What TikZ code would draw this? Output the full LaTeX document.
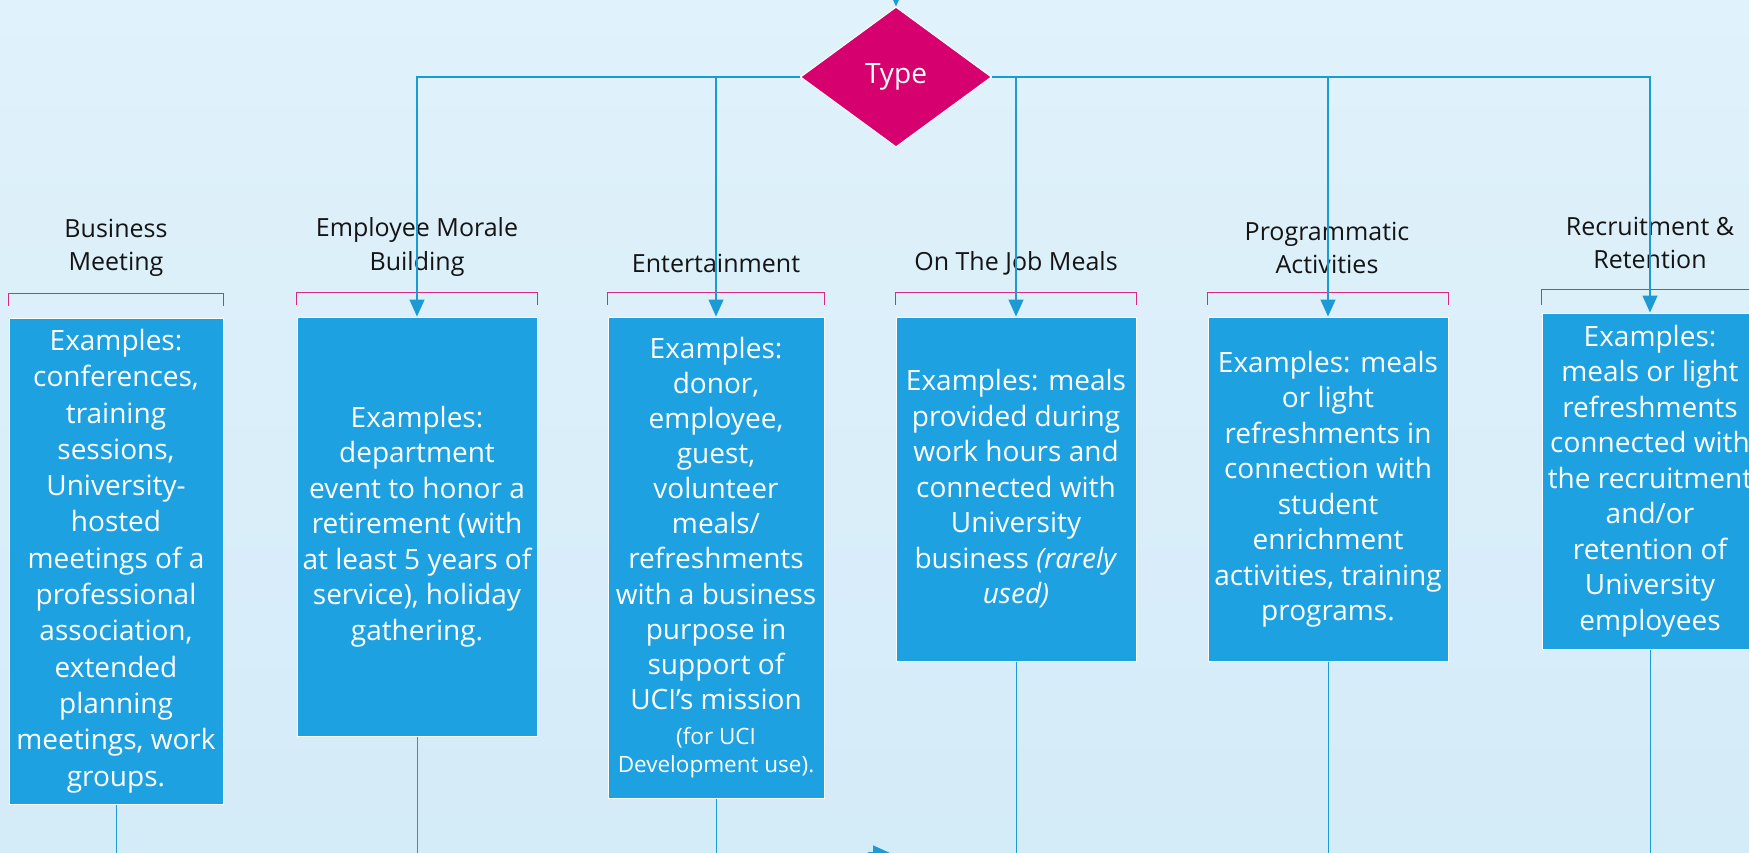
\documentclass[tikz,border=0pt]{standalone}
\usepackage{fontspec}
\setmainfont{Open Sans}
\usetikzlibrary{shapes.geometric,arrows.meta}
\definecolor{bgtop}{RGB}{224,242,251}
\definecolor{bgbot}{RGB}{212,235,248}
\definecolor{boxblue}{RGB}{29,161,224}
\definecolor{lineblue}{RGB}{28,154,214}
\definecolor{typemag}{RGB}{214,0,111}
\definecolor{brackmag}{RGB}{222,40,130}
\newcommand{\bodyfnt}{\fontsize{28}{35.5}\selectfont}
\newcommand{\smallfnt}{\fontsize{22.5}{28}\selectfont}
\tikzset{
  exbox/.style={draw=white, line width=1pt, fill=boxblue, text=white, align=center, inner sep=0pt, font=\bodyfnt},
  catlabel/.style={align=center, text=black!92, inner sep=0pt, font=\fontsize{25}{33}\selectfont},
  conn/.style={draw=lineblue, line width=1.5pt},
  thinconn/.style={draw=lineblue, line width=1pt},
  arr/.style={-{Triangle[width=15pt,length=17pt]}},
  bracket/.style={draw=brackmag, line width=1.2pt},
}
\begin{document}
\begin{tikzpicture}[x=1pt,y=-1pt]
\useasboundingbox (0,0) rectangle (1749,852);
\clip (0,0) rectangle (1749,852);
\shade[top color=bgtop, bottom color=bgbot] (0,0) rectangle (1749,852);

% diamond
\node[diamond, aspect=1.364, fill=typemag, draw=white, line width=1pt, minimum width=191pt, minimum height=140pt, inner sep=0pt, text=white, font=\fontsize{28}{34}\selectfont] (type) at (896,77) {Type};

% category labels
\node[catlabel] (l1) at (116,248) {Business\\Meeting};
\node[catlabel] (l2) at (417,247) {Employee Morale\\Building};
\node[catlabel] (l3) at (716,263) {Entertainment};
\node[catlabel] (l4) at (1016,263) {On The Job Meals};
\node[catlabel] (l5) at (1327,248) {Programmatic\\Activities};
\node[catlabel] (l6) at (1650,243) {Recruitment \&\\Retention};

% boxes
\node[exbox, font=\fontsize{28}{36.3}\selectfont, minimum width=214pt, minimum height=486pt] (b1) at (116,561) {Examples:\\conferences,\\training\\sessions,\\University-\\hosted\\meetings of a\\professional\\association,\\extended\\planning\\meetings, work\\groups.};
\node[exbox, minimum width=240pt, minimum height=419pt] (b2) at (417,526.5) {Examples:\\department\\event to honor a\\retirement (with\\at least 5 years of\\service), holiday\\gathering.};
\node[exbox, font=\fontsize{28}{35.1}\selectfont, minimum width=216pt, minimum height=481pt] (b3) at (716,557.5) {Examples:\\donor,\\employee,\\guest,\\volunteer\\meals/\\refreshments\\with a business\\purpose in\\support of\\UCI’s mission\\{\smallfnt (for UCI}\\[-7pt]{\smallfnt Development use).}};
\node[exbox, minimum width=240pt, minimum height=344pt] (b4) at (1016,489) {Examples: meals\\provided during\\work hours and\\connected with\\University\\business \textit{(rarely}\\\textit{used)}};
\node[exbox, minimum width=240pt, minimum height=344pt] (b5) at (1328,489) {Examples: meals\\or light\\refreshments in\\connection with\\student\\enrichment\\activities, training\\programs.};
\node[exbox, minimum width=216pt, minimum height=336pt] (b6) at (1650,481) {Examples:\\meals or light\\refreshments\\connected with\\the recruitment\\and/or\\retention of\\University\\employees};

% brackets
\foreach \b in {b1,b2,b3,b4,b5}{
  \draw[bracket] ([yshift=12pt]\b.north west) -- ([yshift=24pt]\b.north west) -- ([yshift=24pt]\b.north east) -- ([yshift=12pt]\b.north east);
}
\draw[bracket] ([yshift=8pt]b6.north west) -- ([yshift=23pt]b6.north west) -- ([yshift=23pt]b6.north east) -- ([yshift=8pt]b6.north east);

% connectors from Type
\draw[conn,arr] (type.west) -| (b2.north);
\draw[conn,arr] (type.west) -| (b3.north);
\draw[conn,arr] (type.east) -| (b4.north);
\draw[conn,arr] (type.east) -| (b5.north);
\draw[conn,arr] (type.east) -| (b6.north);

% incoming arrow at top
\coordinate (topin) at (896,-12);
\draw[conn,arr] (topin) -- (type.north);

% lines below boxes
\coordinate (bot) at (0,860);
\foreach \b in {b1,b2,b3,b4,b5,b6}{
  \draw[thinconn] (\b.south) -- (\b.south |- bot);
}

% partial arrowhead at bottom
\coordinate (ba) at (868,853);
\coordinate (bb) at (890,853);
\draw[conn,arr] (ba) -- (bb);
\end{tikzpicture}
\end{document}
